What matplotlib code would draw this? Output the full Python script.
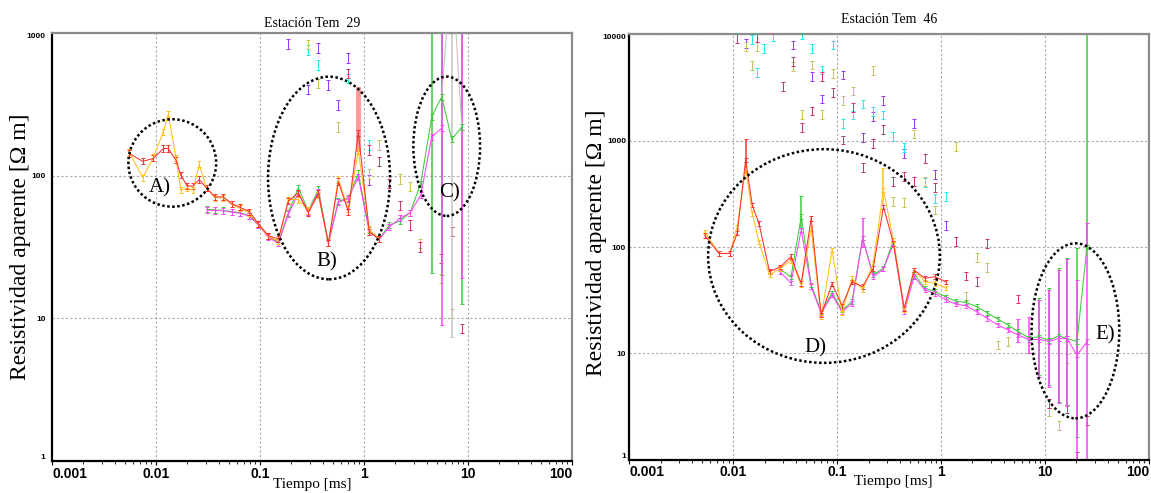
import numpy as np
import matplotlib
matplotlib.use('Agg')
import matplotlib.pyplot as plt
from matplotlib.patches import Ellipse
from matplotlib.ticker import NullFormatter, LogLocator

# ---------------- Estacion Tem 29 ----------------
t29_red = [0.00553, 0.00745, 0.00942, 0.01175, 0.01312, 0.01556, 0.01728, 0.0200, 0.02254, 0.02606,
           0.0307, 0.0369, 0.0444, 0.0535, 0.0643, 0.0789, 0.0964, 0.1202, 0.150, 0.187,
           0.233, 0.291, 0.364, 0.454, 0.566, 0.706, 0.881, 1.125, 1.40]
rho29_red = [143, 126, 132, 155, 155, 128, 101, 84.5, 84.5, 94,
             81.5, 71, 71, 63.5, 60, 56, 46, 38, 36, 66,
             76, 55, 75, 33.5, 91, 56, 200, 40, 36]
rho29_yel = [146, 97, 134, 203, 270, 133, 79, 82, 79, 120,
             81.5, 70, 70, 63, 59, 55, 45.5, 37.5, 35, 68,
             68, 57, 73, 34, 94, 58, 150, 42, 36]

t29_mag = [0.0307, 0.0369, 0.0444, 0.0535, 0.0643, 0.0789, 0.0964, 0.1202, 0.150, 0.187,
           0.233, 0.291, 0.364, 0.454, 0.566, 0.706, 0.881, 1.125, 1.40, 1.75,
           2.22, 2.77, 3.51, 4.48, 5.58]
rho29_mag = [57.4, 57, 56.8, 55.5, 54.5, 52, 45, 37, 33.5, 53.6,
             75, 55.8, 77, 33.5, 65, 69, 98, 40.4, 35.8, 43.8,
             50.2, 55, 73, 187, 215]
t29_grn = t29_mag + [6.97, 8.71]
rho29_grn = [58, 57.5, 57, 56, 55, 52.5, 45.5, 37.5, 34, 55,
             82, 57, 80, 34, 66, 70, 104, 41.5, 36, 45,
             48, 55, 88, 259, 357, 180, 220]
t29_gry = [5.58, 6.97, 8.71]
rho29_gry = [357, 3000, 220]

t29_pur = [0.187, 0.358, 0.288, 0.454, 0.566, 0.706, 1.125]
rho29_pur = [837, 782, 403, 432, 313, 666, 93]
t29_cya = [0.291, 0.364, 0.706, 1.125]
rho29_cya = [760, 597, 481, 164]
t29_kha = [0.291, 0.364, 0.566, 1.40, 1.125, 2.22, 2.77, 3.46, 5.5, 6.97]
rho29_kha = [830, 444, 220, 164, 103, 95, 84, 33.5, 19, 10.8]
t29_cri = [0.706, 1.125, 1.40, 1.75, 2.22, 2.77, 3.46, 5.5, 6.97, 8.71]
rho29_cri = [521, 151, 126, 88, 62, 45, 31.7, 26.3, 40.5, 8.5]

# large error bars: series -> (times, lower, upper)
bars29 = {
    'green': ([4.48, 5.58, 8.71], [20.8, 20, 12.6], [3000, 3000, 3000]),
    'gray': ([6.97], [7.4], [3000]),
    'magenta': ([5.58, 8.71], [9, 19.2], [3000, 3000]),
}
band29 = {'red': ([0.881], [150], [420])}

# ---------------- Estacion Tem 46 ----------------
t46_red = [0.00531, 0.00728, 0.00922, 0.0109, 0.01312, 0.0152, 0.01762, 0.0223, 0.0283, 0.0358,
           0.0450, 0.0561, 0.0700, 0.0891, 0.1112, 0.1387, 0.1754, 0.2218, 0.2786, 0.3475,
           0.4406, 0.5495, 0.697, 0.873, 1.107]
rho46_red = [128, 87, 87, 135, 658, 248, 167, 58.6, 65, 81,
             45.6, 186, 23, 45, 28, 47, 42.4, 63, 239, 108,
             26.5, 60.8, 50.8, 52.6, 47]
rho46_yel = [138, 87, 87, 155, 550, 207, 112, 54.5, 63, 75,
             44, 150, 22, 94, 24, 50.8, 40, 70, 344, 116,
             25.5, 60.8, 47, 45.6, 41]

t46_mag = [0.0283, 0.0358, 0.0450, 0.0561, 0.0700, 0.0891, 0.1112, 0.1387, 0.1754, 0.2218,
           0.2786, 0.3475, 0.4406, 0.5495, 0.697, 0.873, 1.107, 1.38, 1.746, 2.2,
           2.78, 3.51, 4.39, 5.51, 6.98, 8.71, 10.9, 13.5, 16.3, 20.3, 25.3]
rho46_mag = [58, 46, 145, 42.4, 23.8, 35.3, 24.6, 29.5, 121, 52.6,
             62, 108, 24.6, 52.6, 39.4, 36.6, 32, 29, 28, 24.6,
             21.3, 18.5, 16.6, 14.9, 13.5, 13.5, 12.9, 13.8, 13.8, 9.6, 12.9]
rho46_grn = [62, 52, 193, 44, 24.6, 37, 25.5, 30.6, 121, 55,
             63, 116, 26, 56, 41, 38, 34, 31, 30, 27.5,
             24, 21, 18.5, 16, 14, 14.3, 13.2, 14.6, 13.8, 12.9, 100]

t46_pur = [0.0131, 0.0373, 0.0574, 0.0715, 0.1131, 0.1754, 0.2218, 0.2786, 0.4406, 0.5495, 0.873, 1.107]
rho46_pur = [8270, 7950, 4000, 2470, 4150, 1067, 1680, 2380, 760, 1460, 483, 158]
t46_cya = [0.0152, 0.0170, 0.0198, 0.0240, 0.0456, 0.0574, 0.0715, 0.0904, 0.1131, 0.1415,
           0.1754, 0.2218, 0.2786, 0.3475, 0.4406, 0.697, 0.873, 1.107]
rho46_cya = [9000, 4390, 7320, 9550, 9900, 7400, 4630, 7950, 1460, 1745,
             2215, 1875, 1745, 1090, 867, 406, 287, 297]
t46_kha = [0.0131, 0.0152, 0.0170, 0.0373, 0.0456, 0.0574, 0.0715, 0.0904, 0.1131, 0.1415,
           0.2218, 0.3475, 0.4406, 0.5495, 0.697, 0.873, 1.38, 2.2, 2.78, 1.746,
           3.51, 4.39, 6.98, 10.9, 13.5, 16.3]
rho46_kha = [7700, 5060, 7700, 4970, 1770, 5150, 1770, 4300, 2380, 2935,
             4560, 267, 261, 1155, 411, 223, 878, 80, 64.4, 34,
             12, 13, 11, 2.8, 2.1, 8.9]
t46_cri = [0.0109, 0.0170, 0.0299, 0.0373, 0.0456, 0.0574, 0.0715, 0.0904, 0.1131, 0.1415,
           0.1754, 0.2218, 0.2786, 0.3475, 0.4406, 0.5495, 0.697, 0.873, 1.38, 2.78,
           1.746, 2.2, 5.51, 10.9, 16.3, 20.3, 25.3]
rho46_cri = [9200, 9400, 3220, 5540, 1335, 1900, 4000, 2830, 1015, 2045,
             562, 945, 1280, 411, 459, 411, 682, 364, 112, 107,
             53.4, 47.2, 32.4, 3.39, 3.0, 1.08, 2.35]

bars46 = {
    'green': ([0.0450, 8.71, 10.9, 13.5, 16.3, 20.3, 25.3],
              [150, 6.2, 5.0, 3.5, 3.3, 1.64, 100],
              [304, 33, 41, 63, 79, 97, 30000]),
    'magenta': ([0.1754, 5.51, 6.98, 8.71, 10.9, 13.5, 16.3, 20.3, 25.3],
                [100, 12.7, 10, 6.0, 4.85, 3.39, 3.2, 0.9, 0.9],
                [186, 21, 22.1, 31.7, 39.3, 60.8, 76.6, 49, 167]),
    'red': ([0.01312], [500], [1030]),
    'yellow': ([0.2786], [250], [553]),
}

x_ticks = [0.001, 0.01, 0.1, 1, 10, 100]
x_ticklabels = ['0.001', '0.01', '0.1', '1', '10', '100']

COL = {'red': '#ff3030', 'yellow': '#ffc21a', 'magenta': '#ff44ff', 'green': '#3ccc3c',
       'gray': '#c4c4c4', 'purple': '#9933ff', 'cyan': '#22e8f0', 'khaki': '#c8c25a',
       'crimson': '#cc3366'}
SERIF = ['Liberation Serif', 'DejaVu Serif']
TICKF = ['Liberation Sans Narrow', 'Liberation Sans', 'DejaVu Sans']


def series(ax, t, rho, c, rel=1.05, ls='-', z=3):
    t = np.asarray(t, float)
    rho = np.asarray(rho, float)
    ax.errorbar(t, rho, yerr=[rho - rho / rel, rho * rel - rho], color=COL[c], ls=ls, lw=0.75,
                elinewidth=0.7, capsize=1.5, capthick=0.7, zorder=z)


def bigbars(ax, bars, lw=1.1, alpha=1.0, z=2.5):
    for c, (t, lo, hi) in bars.items():
        lo = np.asarray(lo, float)
        hi = np.asarray(hi, float)
        ax.errorbar(t, lo, yerr=[np.zeros_like(lo), hi - lo], fmt='none', ecolor=COL[c],
                    elinewidth=lw, capsize=1.5, capthick=0.7, alpha=alpha, zorder=z)


def style(ax, yticks, ylabels, title, title_pad, ylab_x, ylab_y, xlab_x, xlab_y, ypad):
    ax.set_xscale('log')
    ax.set_yscale('log')
    ax.set_xlim(0.001, 100)
    ax.set_ylim(yticks[0], yticks[-1])
    ax.grid(True, which='major', color='#a8a8a8', ls=(0, (2, 2)), lw=0.8)
    ax.set_axisbelow(True)
    for s in ['left', 'bottom']:
        ax.spines[s].set_color('black')
        ax.spines[s].set_linewidth(1.6)
    for s in ['top', 'right']:
        ax.spines[s].set_color('#8c8c8c')
        ax.spines[s].set_linewidth(1.6)
    ax.set_xticks(x_ticks)
    ax.set_xticklabels(x_ticklabels, fontfamily=TICKF, fontweight='bold', fontsize=10)
    ax.set_yticks(yticks)
    ax.set_yticklabels(ylabels, fontfamily=TICKF, fontweight='bold', fontsize=6)
    xl = ax.get_xticklabels()
    xl[0].set_ha('left')
    xl[-1].set_ha('right')
    yl = ax.get_yticklabels()
    yl[0].set_va('bottom')
    yl[-1].set_va('top')
    ax.xaxis.set_minor_locator(LogLocator(base=10, subs=np.arange(2, 10), numticks=20))
    ax.xaxis.set_minor_formatter(NullFormatter())
    ax.yaxis.set_minor_locator(LogLocator(base=10, subs=np.arange(2, 10), numticks=20))
    ax.yaxis.set_minor_formatter(NullFormatter())
    ax.tick_params(axis='x', which='major', length=3, pad=1, width=0.8)
    ax.tick_params(axis='x', which='minor', length=2, width=0.6)
    ax.tick_params(axis='y', which='both', length=0, pad=ypad)
    ax.set_title(title, fontfamily=SERIF, fontsize=10, pad=title_pad)
    ax.set_ylabel('Resistividad aparente [Ω m]', fontfamily=SERIF, fontsize=17)
    ax.yaxis.set_label_coords(ylab_x, ylab_y)
    ax.set_xlabel('Tiempo [ms]', fontfamily=SERIF, fontsize=11)
    ax.xaxis.set_label_coords(xlab_x, xlab_y)


def ellipse(ax, cx, cy, w, h, text, tx, ty):
    ax.add_patch(Ellipse((cx, cy), w, h, transform=ax.transAxes, fill=False, ec='black',
                         lw=1.8, ls=(0, (1, 1)), zorder=6))
    ax.text(tx, ty, text, transform=ax.transAxes, fontfamily=SERIF, fontsize=15,
            ha='center', va='center', zorder=7)


fig = plt.figure(figsize=(11.51, 4.93), dpi=100)
ax1 = fig.add_axes([0.0452, 0.0649, 0.4518, 0.8682])
ax2 = fig.add_axes([0.5469, 0.0677, 0.4513, 0.8625])

# left panel
rel_s = 1.08
series(ax1, t29_pur, rho29_pur, 'purple', rel_s, ls='none', z=2)
series(ax1, t29_cya, rho29_cya, 'cyan', rel_s, ls='none', z=2)
series(ax1, t29_kha, rho29_kha, 'khaki', rel_s, ls='none', z=2)
series(ax1, t29_cri, rho29_cri, 'crimson', rel_s, ls='none', z=2)
bigbars(ax1, bars29)
bigbars(ax1, band29, lw=3.5, alpha=0.5)
series(ax1, t29_gry, rho29_gry, 'gray', z=2.6)
series(ax1, t29_grn, rho29_grn, 'green', z=3)
series(ax1, t29_mag, rho29_mag, 'magenta', z=3.1)
series(ax1, t29_red, rho29_yel, 'yellow', z=3.2)
series(ax1, t29_red, rho29_red, 'red', z=3.3)
style(ax1, [1, 10, 100, 1000], ['1', '10', '100', '1000'], 'Estación Tem  29', 4.5,
      -0.040, 0.50, 0.50, -0.040, 4.7)
ellipse(ax1, 0.2312, 0.6963, 0.1687, 0.2042, 'A)', 0.2077, 0.637)
ellipse(ax1, 0.5327, 0.6612, 0.2346, 0.4734, 'B)', 0.529, 0.465)
ellipse(ax1, 0.759, 0.7353, 0.1283, 0.3255, 'C)', 0.765, 0.6255)

# right panel
rel_s = 1.1
series(ax2, t46_pur, rho46_pur, 'purple', rel_s, ls='none', z=2)
series(ax2, t46_cya, rho46_cya, 'cyan', rel_s, ls='none', z=2)
series(ax2, t46_kha, rho46_kha, 'khaki', rel_s, ls='none', z=2)
series(ax2, t46_cri, rho46_cri, 'crimson', rel_s, ls='none', z=2)
bigbars(ax2, bars46)
series(ax2, t46_mag, rho46_grn, 'green', z=3)
series(ax2, t46_mag, rho46_mag, 'magenta', z=3.1)
series(ax2, t46_red, rho46_yel, 'yellow', z=3.2)
series(ax2, t46_red, rho46_red, 'red', z=3.3)
style(ax2, [1, 10, 100, 1000, 10000], ['1', '10', '100', '1000', '10000'], 'Estación Tem  46', 8,
      -0.044, 0.51, 0.507, -0.036, 2.5)
ellipse(ax2, 0.3744, 0.4788, 0.446, 0.5026, 'D)', 0.358, 0.262)
ellipse(ax2, 0.8585, 0.3029, 0.1688, 0.4116, 'E)', 0.916, 0.294)

fig.savefig('out.png', dpi=100)
